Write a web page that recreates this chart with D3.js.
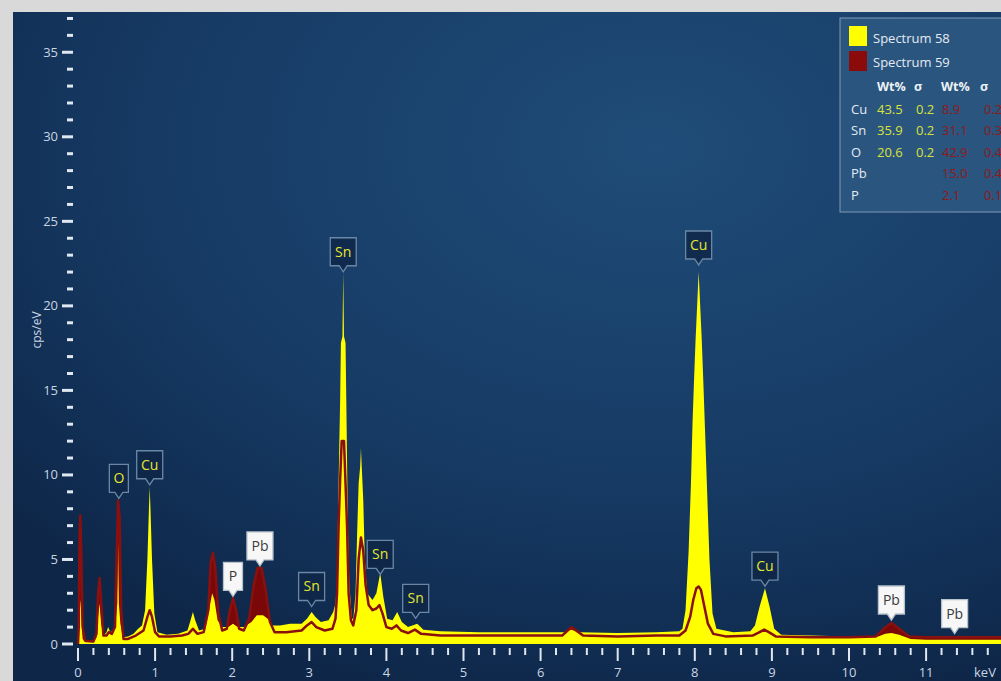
<!DOCTYPE html>
<html>
<head>
<meta charset="utf-8">
<script src="https://cdn.jsdelivr.net/npm/d3@7"></script>
<style>
  body { margin: 0; background: #d9d9d9; overflow: hidden; }
  text { font-family: "Open Sans", "Noto Sans", sans-serif; }
</style>
</head>
<body>
<div id="chart"></div>
<script>
// Spectrum 58 (yellow, filled) as [keV, cps/eV]
var spectrum58 = [
  [0.00,0],[0.01,0.5],[0.02,2.2],[0.03,2.6],[0.04,2.0],[0.06,0.3],[0.10,0.1],[0.20,0.1],
  [0.24,0.4],[0.26,1.6],[0.28,2.4],[0.30,1.2],[0.33,0.5],[0.37,0.7],[0.39,1.0],[0.42,0.7],
  [0.46,0.8],[0.49,1.5],[0.51,2.4],[0.52,6.1],[0.53,2.4],[0.55,1.2],[0.58,0.4],[0.65,0.45],
  [0.72,0.6],[0.78,0.9],[0.83,1.1],[0.87,2.0],[0.90,5.0],[0.92,8.0],[0.93,9.3],[0.94,8.0],
  [0.96,5.0],[0.99,1.8],[1.03,0.7],[1.15,0.55],[1.30,0.6],[1.42,0.8],[1.46,1.4],[1.49,1.9],
  [1.52,1.4],[1.57,0.8],[1.65,0.9],[1.70,2.0],[1.74,3.0],[1.77,2.6],[1.81,1.4],[1.87,1.0],
  [1.95,1.0],[2.01,1.2],[2.07,1.0],[2.15,1.0],[2.25,1.3],[2.32,1.7],[2.40,1.7],[2.46,1.5],
  [2.52,1.1],[2.62,1.1],[2.75,1.2],[2.90,1.2],[2.97,1.5],[3.03,1.9],[3.08,1.6],[3.15,1.3],
  [3.25,1.4],[3.31,1.9],[3.34,2.4],[3.36,3.8],[3.37,7.0],[3.39,12.0],[3.40,14.4],[3.41,17.8],
  [3.43,18.2],[3.44,22.0],[3.45,18.2],[3.47,17.8],[3.48,14.4],[3.50,7.0],[3.52,3.5],[3.55,1.6],
  [3.57,1.4],[3.60,3.0],[3.62,6.5],[3.64,9.5],[3.66,10.5],[3.67,11.6],[3.68,10.5],[3.70,8.5],
  [3.72,5.0],[3.75,3.0],[3.82,2.6],[3.87,3.0],[3.92,4.2],[3.96,2.8],[4.01,1.5],[4.08,1.4],
  [4.14,1.9],[4.20,1.3],[4.28,1.0],[4.40,1.2],[4.48,0.85],[4.70,0.75],[5.20,0.7],[5.80,0.7],
  [6.30,0.7],[6.40,0.85],[6.50,0.7],[7.00,0.65],[7.50,0.7],[7.80,0.75],[7.84,0.9],[7.88,2.0],
  [7.92,5.5],[7.95,9.5],[7.97,13.0],[7.99,15.6],[8.01,18.0],[8.04,21.0],[8.05,22.0],[8.06,21.0],
  [8.09,18.0],[8.11,15.6],[8.13,13.0],[8.16,9.0],[8.19,5.0],[8.23,1.8],[8.28,0.9],[8.50,0.7],
  [8.72,0.75],[8.78,1.1],[8.84,2.2],[8.91,3.3],[8.97,2.2],[9.03,0.9],[9.12,0.55],[9.50,0.5],
  [10.00,0.45],[10.38,0.45],[10.47,0.6],[10.55,0.65],[10.65,0.55],[10.80,0.3],[11.00,0.25],
  [11.50,0.25],[12.00,0.25],[12.50,0.25]
];

// Spectrum 59 (dark red) as [keV, cps/eV]
var spectrum59 = [
  [0.00,0],[0.01,1.0],[0.02,6.5],[0.03,7.6],[0.04,6.0],[0.06,1.0],[0.09,0.2],[0.20,0.15],
  [0.24,0.6],[0.26,3.0],[0.28,3.9],[0.30,2.5],[0.33,0.5],[0.37,0.5],[0.40,0.7],[0.44,0.6],
  [0.48,1.0],[0.50,5.0],[0.52,8.5],[0.54,7.5],[0.56,2.0],[0.59,0.3],[0.65,0.3],[0.75,0.5],
  [0.85,0.8],[0.90,1.6],[0.93,2.0],[0.96,1.6],[1.00,0.7],[1.05,0.45],[1.20,0.45],[1.35,0.5],
  [1.43,0.6],[1.49,0.9],[1.55,0.6],[1.63,0.7],[1.69,2.0],[1.72,4.8],[1.75,5.4],[1.78,4.5],
  [1.82,1.8],[1.87,0.8],[1.93,0.9],[1.97,2.0],[2.01,2.7],[2.05,2.0],[2.09,0.9],[2.15,0.8],
  [2.22,1.5],[2.28,3.5],[2.33,4.5],[2.38,4.5],[2.43,3.3],[2.49,1.3],[2.55,0.7],[2.70,0.7],
  [2.90,0.8],[2.97,1.1],[3.03,1.3],[3.09,1.0],[3.20,0.8],[3.30,0.9],[3.34,1.5],[3.36,3.0],
  [3.38,7.0],[3.40,9.7],[3.42,12.0],[3.45,12.0],[3.47,9.5],[3.49,6.9],[3.51,3.0],[3.54,1.4],
  [3.57,1.1],[3.61,2.0],[3.64,5.0],[3.67,6.3],[3.70,5.5],[3.73,3.5],[3.77,2.3],[3.82,2.0],
  [3.87,2.1],[3.91,2.3],[3.95,1.8],[4.00,1.0],[4.07,0.9],[4.13,1.1],[4.19,0.8],[4.28,0.65],
  [4.37,0.85],[4.45,0.6],[4.70,0.5],[5.20,0.5],[5.80,0.5],[6.28,0.5],[6.35,0.8],[6.40,1.0],
  [6.46,0.8],[6.55,0.5],[7.00,0.45],[7.50,0.5],[7.80,0.5],[7.88,0.8],[7.94,1.6],[7.98,2.6],
  [8.02,3.3],[8.05,3.4],[8.08,3.2],[8.12,2.3],[8.17,1.2],[8.24,0.6],[8.40,0.45],[8.75,0.5],
  [8.84,0.7],[8.90,0.85],[8.96,0.7],[9.05,0.45],[9.50,0.4],[10.00,0.4],[10.35,0.45],[10.45,0.9],
  [10.55,1.25],[10.65,0.9],[10.78,0.45],[11.00,0.4],[11.50,0.4],[12.00,0.4],[12.50,0.4]
];

// Peak markers
var peakElements = ["O", "Cu", "P", "Pb", "Sn", "Sn", "Sn", "Sn", "Cu", "Cu", "Pb", "Pb"];
var peakKeV = [0.53, 0.93, 2.01, 2.36, 3.03, 3.44, 3.92, 4.38, 8.05, 8.91, 10.55, 11.37];
var peakCps = [8.5, 9.3, 2.7, 4.5, 2.1, 21.9, 4.0, 1.4, 22.3, 3.3, 1.3, 0.5];
var peakSpectrum = [58, 58, 59, 59, 58, 58, 58, 58, 58, 58, 59, 59];

// Quant table
var legendNames = ["Spectrum 58", "Spectrum 59"];
var tableElements = ["Cu", "Sn", "O", "Pb", "P"];
var wt58 = ["43.5", "35.9", "20.6", "", ""];
var sigma58 = ["0.2", "0.2", "0.2", "", ""];
var wt59 = ["8.9", "31.1", "42.9", "15.0", "2.1"];
var sigma59 = ["0.2", "0.3", "0.4", "0.4", "0.1"];

var yTicks = d3.range(0, 38, 1);
var xTicks = d3.range(0, 12.01, 0.2);

var svgWidth = 1001;
var svgHeight = 681;
var yellow = "#ffff00";
var red = "#8a1010";
var axisColor = "#dfe7f0";

var svg = d3.select("#chart")
  .append("svg")
  .attr("width", svgWidth)
  .attr("height", svgHeight);

// Background panel
var defs = svg.append("defs");
var grad = defs.append("radialGradient")
  .attr("id", "bg")
  .attr("cx", "65%").attr("cy", "20%").attr("r", "85%");
grad.append("stop").attr("offset", "0%").attr("stop-color", "#1f4c78");
grad.append("stop").attr("offset", "60%").attr("stop-color", "#163a64");
grad.append("stop").attr("offset", "100%").attr("stop-color", "#0e2749");

svg.append("rect")
  .attr("x", 13).attr("y", 12)
  .attr("width", svgWidth - 13).attr("height", svgHeight - 12)
  .attr("fill", "url(#bg)");

defs.append("clipPath").attr("id", "plotClip")
  .append("rect").attr("x", 13).attr("y", 12)
  .attr("width", svgWidth - 13).attr("height", svgHeight - 12);

// Scales
var x = d3.scaleLinear().domain([0, 12]).range([78, 1003.2]);
var y = d3.scaleLinear().domain([0, 37.5]).range([644, 10]);

// Spectra
var plot = svg.append("g").attr("clip-path", "url(#plotClip)");

var area = d3.area()
  .x(d => x(d[0]))
  .y0(y(0))
  .y1(d => y(d[1]));
var line = d3.line()
  .x(d => x(d[0]))
  .y(d => y(d[1]));

plot.append("path")
  .datum(spectrum59)
  .attr("d", area)
  .attr("fill", "#7a0808");

plot.append("path")
  .datum(spectrum58)
  .attr("d", area)
  .attr("fill", yellow);

plot.append("path")
  .datum(spectrum59)
  .attr("d", line)
  .attr("fill", "none")
  .attr("stroke", red)
  .attr("stroke-width", 2.5)
  .attr("stroke-linejoin", "round");

// Y axis (ticks only)
var yAxis = svg.append("g");
yAxis.selectAll("line")
  .data(yTicks)
  .enter()
  .append("line")
  .attr("x1", d => d % 5 === 0 ? 62 : 67)
  .attr("x2", 73)
  .attr("y1", d => y(d))
  .attr("y2", d => y(d))
  .attr("stroke", axisColor)
  .attr("stroke-width", 3);

yAxis.selectAll("text")
  .data(yTicks.filter(d => d % 5 === 0))
  .enter()
  .append("text")
  .attr("x", 58)
  .attr("y", d => y(d))
  .attr("dy", "0.35em")
  .attr("text-anchor", "end")
  .attr("fill", "#c9d5e2")
  .style("font-size", "13px")
  .text(d => d);

svg.append("text")
  .attr("transform", "translate(41," + 330 + ") rotate(-90)")
  .attr("text-anchor", "middle")
  .attr("fill", "#c9d5e2")
  .style("font-size", "12px")
  .text("cps/eV");

// X axis (ticks only)
var xAxis = svg.append("g");
xAxis.selectAll("line")
  .data(xTicks)
  .enter()
  .append("line")
  .attr("x1", d => x(d))
  .attr("x2", d => x(d))
  .attr("y1", 648)
  .attr("y2", d => Math.abs(d - Math.round(d)) < 0.01 ? 661 : 655)
  .attr("stroke", axisColor)
  .attr("stroke-width", 2);

xAxis.selectAll("text")
  .data(d3.range(0, 12))
  .enter()
  .append("text")
  .attr("x", d => x(d))
  .attr("y", 677)
  .attr("text-anchor", "middle")
  .attr("fill", "#c9d5e2")
  .style("font-size", "13px")
  .text(d => d);

svg.append("text")
  .attr("x", 974)
  .attr("y", 677)
  .attr("fill", "#c9d5e2")
  .style("font-size", "13px")
  .text("keV");

// Peak callouts
var peaks = peakElements.map((el, i) => ({
  el: el, keV: peakKeV[i], cps: peakCps[i], spec: peakSpectrum[i]
}));

var callouts = svg.selectAll(".callout")
  .data(peaks)
  .enter()
  .append("g")
  .attr("class", "callout")
  .attr("transform", d => `translate(${x(d.keV)}, ${y(d.cps) - 2})`);

callouts.append("path")
  .attr("d", d => {
    var w = d.el.length > 1 ? 26 : 19;
    var h = 28, t = 6, hw = w / 2;
    return `M0,0 L${-4},${-t} L${-hw},${-t} L${-hw},${-t - h} L${hw},${-t - h} L${hw},${-t} L4,${-t} Z`;
  })
  .attr("fill", d => d.spec === 58 ? "#0f2748" : "#f7f7f7")
  .attr("fill-opacity", d => d.spec === 58 ? 0.85 : 1)
  .attr("stroke", d => d.spec === 58 ? "#6a88a6" : "#b8c2cc")
  .attr("stroke-width", 1.3);

callouts.append("text")
  .attr("x", 0)
  .attr("y", -15)
  .attr("text-anchor", "middle")
  .attr("fill", d => d.spec === 58 ? "#e6e62e" : "#3a3a3a")
  .style("font-size", "14px")
  .text(d => d.el);

// Legend / quant table
var legend = svg.append("g");
legend.append("rect")
  .attr("x", 840).attr("y", 18)
  .attr("width", 175).attr("height", 194)
  .attr("fill", "#2a557f")
  .attr("stroke", "#7f9ab5")
  .attr("stroke-width", 1);

legend.selectAll(".swatch")
  .data(legendNames)
  .enter()
  .append("rect")
  .attr("x", 849)
  .attr("y", (d, i) => 26 + i * 25)
  .attr("width", 18)
  .attr("height", 20)
  .attr("fill", (d, i) => i === 0 ? yellow : "#8b0a0a");

legend.selectAll(".lname")
  .data(legendNames)
  .enter()
  .append("text")
  .attr("x", 873)
  .attr("y", (d, i) => 38 + i * 24)
  .attr("dy", "0.35em")
  .attr("fill", "#e4ebf2")
  .style("font-size", "13px")
  .text(d => d);

var headers = [["Wt%", 877], ["\u03c3", 914], ["Wt%", 941], ["\u03c3", 980]];
legend.selectAll(".hdr")
  .data(headers)
  .enter()
  .append("text")
  .attr("x", d => d[1])
  .attr("y", 87)
  .attr("dy", "0.35em")
  .attr("fill", "#eef2f6")
  .style("font-size", "12.5px")
  .style("font-weight", "bold")
  .text(d => d[0]);

var rowY = i => 109 + i * 21.5;
var cols = [
  { vals: tableElements, x: 851, color: "#e4ebf2" },
  { vals: wt58, x: 877, color: "#d8e23a" },
  { vals: sigma58, x: 916, color: "#d8e23a" },
  { vals: wt59, x: 942, color: "#8e1a1a" },
  { vals: sigma59, x: 984, color: "#8e1a1a" }
];
cols.forEach(c => {
  legend.selectAll(null)
    .data(c.vals)
    .enter()
    .append("text")
    .attr("x", c.x)
    .attr("y", (d, i) => rowY(i))
    .attr("dy", "0.35em")
    .attr("fill", c.color)
    .style("font-size", "13px")
    .text(d => d);
});
</script>
</body>
</html>
